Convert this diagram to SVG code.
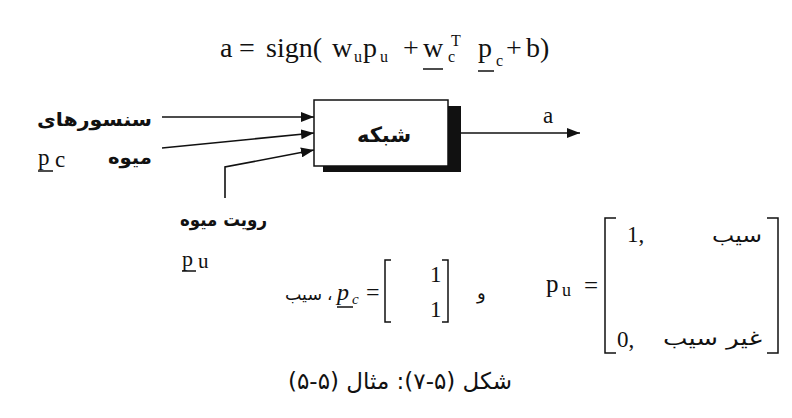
<svg xmlns="http://www.w3.org/2000/svg" width="792" height="418" viewBox="0 0 792 418">
<defs>
<style>
.fa { font-family: "DejaVu Sans", "Noto Sans", sans-serif; fill: #111; }
.fb { font-weight: bold; }
.m { font-family: "Liberation Serif", "DejaVu Serif", serif; fill: #111; }
.mi { font-style: italic; }
.ln { fill: none; stroke: #111; stroke-width: 1.6; }
.br { fill: none; stroke: #111; stroke-width: 1.5; }
</style>
<marker id="ah" markerUnits="userSpaceOnUse" markerWidth="13" markerHeight="10" refX="13" refY="5" orient="auto">
<path d="M0,0 L13,5 L0,10 z" fill="#111"/>
</marker>
</defs>
<rect x="0" y="0" width="792" height="418" fill="#ffffff"/>

<g id="formula">
<text class="m" x="220" y="57" font-size="28">a</text>
<text class="m" x="239" y="57" font-size="28">=</text>
<text class="m" x="266" y="57" font-size="28">sign(</text>
<text class="m" x="332" y="57" font-size="28">w</text>
<text class="m" x="354" y="62" font-size="16">u</text>
<text class="m" x="363" y="57" font-size="28">p</text>
<text class="m" x="380" y="62" font-size="16">u</text>
<text class="m" x="403" y="57" font-size="28">+</text>
<text class="m" x="423" y="57" font-size="28">w</text>
<text class="m" x="448" y="62" font-size="16">c</text>
<text class="m" x="451" y="46" font-size="16">T</text>
<line class="br" x1="423" y1="69" x2="443" y2="69"/>
<text class="m" x="478" y="57" font-size="28">p</text>
<text class="m" x="496" y="66" font-size="16">c</text>
<line class="br" x1="478" y1="71" x2="494" y2="71"/>
<text class="m" x="506" y="57" font-size="28">+</text>
<text class="m" x="526" y="57" font-size="28">b)</text>
</g>

<g id="connectors">
<path class="ln" d="M162,117 L314,117" marker-end="url(#ah)"/>
<path class="ln" d="M162,148 L314,133" marker-end="url(#ah)"/>
<path class="ln" d="M225,198 L225,167 L314,150" marker-end="url(#ah)"/>
<path class="ln" d="M461,133 L580,133" marker-end="url(#ah)"/>
</g>

<g id="network">
<rect x="448" y="106" width="13" height="66" fill="#111"/>
<rect x="323" y="166" width="138" height="6" fill="#111"/>
<rect x="314" y="100" width="134" height="66" fill="#fff" stroke="#111" stroke-width="1.5"/>
<text class="fa fb" x="384" y="142" font-size="21" text-anchor="middle">شبکه</text>
</g>

<g id="output-a">
<text class="m" x="543" y="123" font-size="23">a</text>
</g>

<g id="input-sensors">
<text class="fa fb" x="152" y="126" font-size="19" text-anchor="end" textLength="115" lengthAdjust="spacingAndGlyphs">سنسورهای</text>
<text class="fa fb" x="152" y="164" font-size="19" text-anchor="end" textLength="44" lengthAdjust="spacingAndGlyphs">میوه</text>
<text class="m" x="38" y="165" font-size="23">p</text>
<text class="m" x="55" y="167" font-size="23">c</text>
<line class="br" x1="38" y1="171" x2="53" y2="171"/>
</g>

<g id="input-view">
<text class="fa fb" x="267" y="226" font-size="18" text-anchor="end" textLength="87" lengthAdjust="spacingAndGlyphs">رویت میوه</text>
<text class="m" x="182" y="266" font-size="22">p</text>
<text class="m" x="198" y="268" font-size="21">u</text>
<line class="br" x1="182" y1="271" x2="196" y2="271"/>
</g>

<g id="pc-def">
<text class="fa" x="322" y="300" font-size="17" text-anchor="end" textLength="37" lengthAdjust="spacingAndGlyphs">سیب</text>
<text class="fa" x="327" y="300" font-size="17">،</text>
<text class="m mi" x="337" y="300" font-size="24">p</text>
<text class="m mi" x="352" y="304" font-size="15">c</text>
<line class="br" x1="337" y1="307" x2="353" y2="307"/>
<text class="m" x="366" y="300" font-size="24">=</text>
<path class="br" d="M391,260 H385 V322 H391"/>
<path class="br" d="M442,260 H448 V322 H442"/>
<text class="m" x="430" y="282" font-size="23">1</text>
<text class="m" x="430" y="317" font-size="23">1</text>
<text class="fa" x="477" y="299" font-size="18">و</text>
</g>

<g id="pu-def">
<text class="m" x="546" y="292" font-size="25">p</text>
<text class="m" x="562" y="296" font-size="18">u</text>
<text class="m" x="584" y="294" font-size="25">=</text>
<path class="br" d="M616,218 H605 V353 H616"/>
<path class="br" d="M767,218 H778 V353 H767"/>
<text class="m" x="627" y="242" font-size="23">1,</text>
<text class="fa" x="762" y="242" font-size="20" text-anchor="end" textLength="50" lengthAdjust="spacingAndGlyphs">سیب</text>
<text class="m" x="617" y="347" font-size="23">0,</text>
<text class="fa" x="762" y="345" font-size="20" text-anchor="end" textLength="99" lengthAdjust="spacingAndGlyphs">غیر سیب</text>
</g>

<g id="caption">
<text class="fa" x="400" y="389" font-size="23" text-anchor="middle" direction="rtl" unicode-bidi="bidi-override">شکل (۵-۷): مثال (۵-۵)</text>
</g>
</svg>
